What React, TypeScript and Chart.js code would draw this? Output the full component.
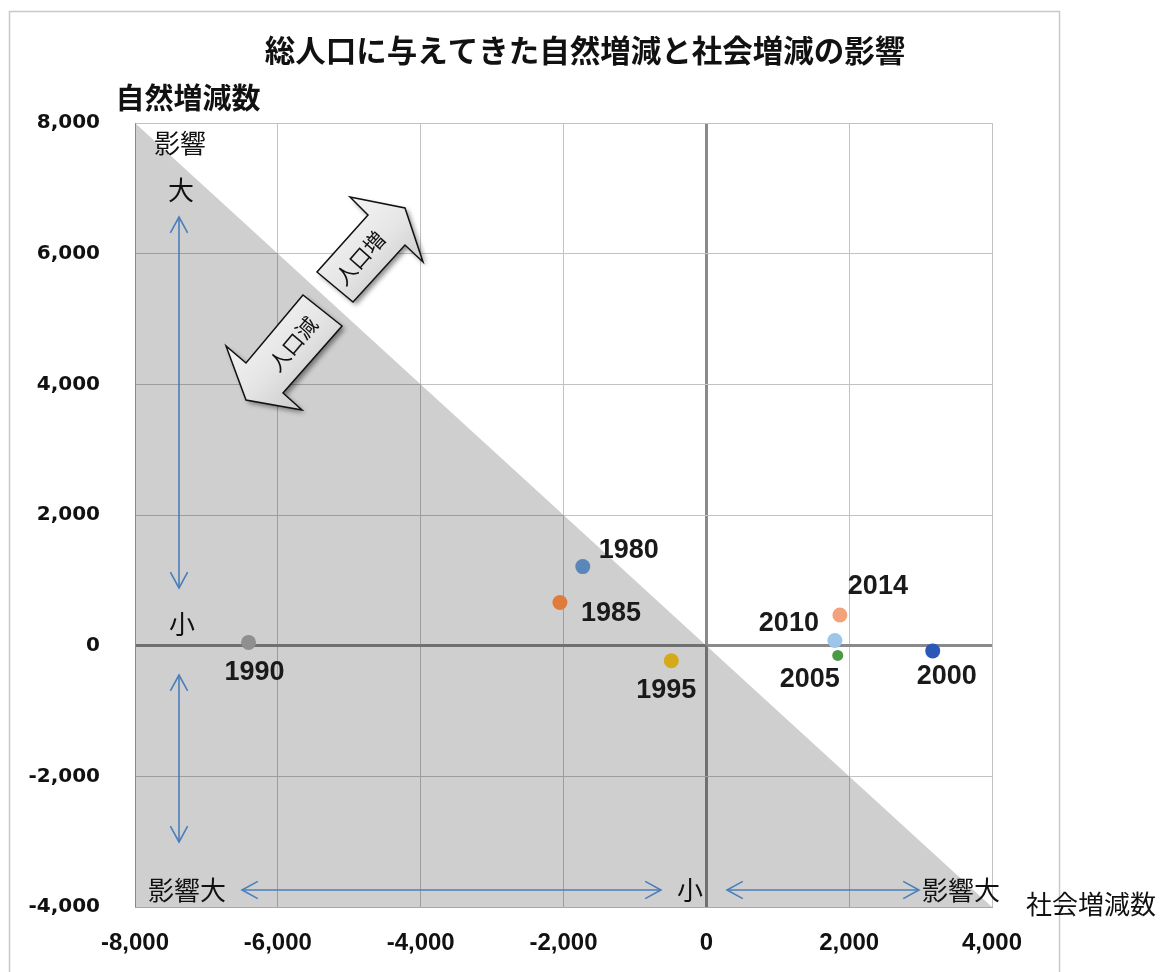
import React, { useEffect, useRef } from 'react';
import { Chart, registerables } from 'chart.js';

Chart.register(...registerables);

// ---- data ----
const YEARS = ['1980', '1985', '1990', '1995', '2000', '2005', '2010', '2014'];
const SOCIAL_CHANGE = [-1730, -2050, -6410, -490, 3170, 1840, 1800, 1870];
const NATURAL_CHANGE = [1210, 660, 50, -230, -80, -150, 80, 470];
const POINT_COLORS = ['#5a86b8', '#e07b39', '#8f8f8f', '#d4aa1a', '#2b57b8', '#4a9a44', '#9ec5ea', '#f3a37a'];
const POINT_RADII = [7.5, 7.5, 7.5, 7.5, 7.5, 5.5, 7.5, 7.5];
const X_RANGE = [-8000, 4000];
const Y_RANGE = [-4000, 8000];
const TICK_STEP = 2000;
// boundary line x + y = 0 (shaded side: population decrease)
const BOUNDARY_X = [-8000, 4000];
const BOUNDARY_Y = [8000, -4000];

const TITLE = '総人口に与えてきた自然増減と社会増減の影響';
const Y_TITLE = '自然増減数';
const X_TITLE = '社会増減数';

// label offsets (px) for year labels
const LABEL_OFFSETS: [number, number][] = [
  [46, -16], [51, 11], [6, 30], [-5, 30], [14, 26], [-28, 24], [-46, -17], [38, -28],
];

const fmt = (v: number) => Number(v).toLocaleString('en-US');

const CJK = '"Noto Sans CJK JP", "Noto Sans", sans-serif';

function blockArrow(ctx: CanvasRenderingContext2D, pts: number[][], label: string, cx: number, cy: number, angle: number) {
  ctx.save();
  let minX = Infinity, minY = Infinity, maxX = -Infinity, maxY = -Infinity;
  pts.forEach(([x, y]) => { minX = Math.min(minX, x); minY = Math.min(minY, y); maxX = Math.max(maxX, x); maxY = Math.max(maxY, y); });
  const g = ctx.createLinearGradient(minX, minY, maxX, maxY);
  g.addColorStop(0, '#fbfbfb');
  g.addColorStop(0.5, '#e6e6e6');
  g.addColorStop(1, '#bdbdbd');
  ctx.beginPath();
  pts.forEach(([x, y], i) => (i === 0 ? ctx.moveTo(x, y) : ctx.lineTo(x, y)));
  ctx.closePath();
  ctx.shadowColor = 'rgba(0,0,0,0.45)';
  ctx.shadowBlur = 5;
  ctx.shadowOffsetX = 3;
  ctx.shadowOffsetY = 3;
  ctx.fillStyle = g;
  ctx.fill();
  ctx.shadowColor = 'transparent';
  ctx.lineWidth = 1.5;
  ctx.strokeStyle = '#111';
  ctx.lineJoin = 'miter';
  ctx.stroke();
  ctx.translate(cx, cy);
  ctx.rotate(angle);
  ctx.fillStyle = '#111';
  ctx.font = `21px ${CJK}`;
  ctx.textAlign = 'center';
  ctx.textBaseline = 'middle';
  ctx.fillText(label, 0, 0);
  ctx.restore();
}

function blueArrow(ctx: CanvasRenderingContext2D, x1: number, y1: number, x2: number, y2: number) {
  const head = (tx: number, ty: number, fx: number, fy: number) => {
    const a = Math.atan2(ty - fy, tx - fx);
    const len = 18, spread = 0.5;
    ctx.beginPath();
    ctx.moveTo(tx - len * Math.cos(a - spread), ty - len * Math.sin(a - spread));
    ctx.lineTo(tx, ty);
    ctx.lineTo(tx - len * Math.cos(a + spread), ty - len * Math.sin(a + spread));
    ctx.stroke();
  };
  ctx.save();
  ctx.strokeStyle = '#4a7ebb';
  ctx.lineWidth = 1.6;
  ctx.beginPath();
  ctx.moveTo(x1, y1);
  ctx.lineTo(x2, y2);
  ctx.stroke();
  head(x1, y1, x2, y2);
  head(x2, y2, x1, y1);
  ctx.restore();
}

const yearLabelPlugin = {
  id: 'yearLabels',
  afterDatasetsDraw(chart: any) {
    const ctx = chart.ctx as CanvasRenderingContext2D;
    const meta = chart.getDatasetMeta(1);
    ctx.save();
    ctx.font = 'bold 27px "Liberation Sans", Arial, sans-serif';
    ctx.fillStyle = '#1a1a1a';
    ctx.textAlign = 'center';
    ctx.textBaseline = 'middle';
    meta.data.forEach((el: any, i: number) => {
      const [dx, dy] = LABEL_OFFSETS[i];
      ctx.fillText(YEARS[i], el.x + dx, el.y + dy);
    });
    ctx.restore();
  },
};

const decorPlugin = {
  id: 'decor',
  afterDraw(chart: any) {
    const ctx = chart.ctx as CanvasRenderingContext2D;
    ctx.save();
    // outer frame
    ctx.strokeStyle = '#c8c8c8';
    ctx.lineWidth = 1.5;
    ctx.strokeRect(9.5, 11.5, 1050, 980);

    ctx.fillStyle = '#111';
    ctx.textAlign = 'center';
    ctx.textBaseline = 'middle';
    ctx.font = `bold 30.5px ${CJK}`;
    ctx.fillText(TITLE, 585, 50);
    ctx.font = `bold 29px ${CJK}`;
    ctx.fillText(Y_TITLE, 188, 98);
    ctx.font = `26px ${CJK}`;
    ctx.fillText(X_TITLE, 1091, 904);

    // influence annotations
    ctx.font = `26px ${CJK}`;
    ctx.fillText('影響', 180, 143);
    ctx.fillText('大', 181, 190);
    ctx.fillText('小', 182, 624);
    ctx.fillText('影響大', 187, 890);
    ctx.fillText('小', 690, 890);
    ctx.fillText('影響大', 961, 890);
    ctx.restore();

    blueArrow(ctx, 179, 217, 179, 588);
    blueArrow(ctx, 179, 675, 179, 842);
    blueArrow(ctx, 242, 890, 661, 890);
    blueArrow(ctx, 727, 890, 919, 890);

    blockArrow(ctx, [[350, 197], [405, 208], [423, 262], [405, 245], [353, 302], [317, 272], [368, 215]], '人口増', 360, 258, -0.85);
    blockArrow(ctx, [[303, 295], [246, 363], [226, 346], [246, 400], [302, 410], [283, 393], [342, 326]], '人口減', 293, 344, -0.87);
  },
};

export default function App() {
  const ref = useRef<HTMLCanvasElement | null>(null);
  useEffect(() => {
    if (!ref.current) return;
    const gridColor = (c: any) => (c.tick && c.tick.value === 0 ? '#8a8a8a' : '#c2c2c2');
    const gridWidth = (c: any) => (c.tick && c.tick.value === 0 ? 3 : 1);
    const chart = new Chart(ref.current, {
      type: 'scatter',
      data: {
        datasets: [
          {
            label: 'boundary',
            data: BOUNDARY_X.map((x, i) => ({ x, y: BOUNDARY_Y[i] })),
            showLine: true,
            borderWidth: 0,
            borderColor: 'rgba(0,0,0,0)',
            pointRadius: 0,
            fill: 'start',
            backgroundColor: 'rgba(0,0,0,0.19)',
            order: 2,
          } as any,
          {
            label: 'years',
            data: SOCIAL_CHANGE.map((x, i) => ({ x, y: NATURAL_CHANGE[i] })),
            pointBackgroundColor: POINT_COLORS,
            pointBorderColor: POINT_COLORS,
            pointBorderWidth: 0,
            pointRadius: POINT_RADII,
            order: 1,
          },
        ],
      },
      options: {
        responsive: false,
        maintainAspectRatio: false,
        animation: false,
        layout: { padding: { left: 0, top: 123, right: 170, bottom: 0 } },
        plugins: { legend: { display: false }, tooltip: { enabled: false }, title: { display: false } },
        scales: {
          x: {
            type: 'linear',
            min: X_RANGE[0],
            max: X_RANGE[1],
            afterFit: (s: any) => { s.height = 65; },
            ticks: {
              stepSize: TICK_STEP,
              padding: 22,
              color: '#111',
              font: { family: '"Liberation Sans", Arial, sans-serif', size: 24, weight: 'bold' },
              callback: (v: any) => fmt(v),
              maxRotation: 0,
            },
            grid: { drawTicks: false, color: gridColor, lineWidth: gridWidth },
            border: { display: true, color: '#a8a8a8', width: 1 },
          },
          y: {
            type: 'linear',
            min: Y_RANGE[0],
            max: Y_RANGE[1],
            afterFit: (s: any) => { s.width = 135; },
            ticks: {
              stepSize: TICK_STEP,
              padding: 35,
              color: '#111',
              font: { family: '"DejaVu Sans", Verdana, sans-serif', size: 20, weight: 'bold' },
              callback: (v: any) => fmt(v),
            },
            grid: { drawTicks: false, color: gridColor, lineWidth: gridWidth },
            border: { display: true, color: '#a8a8a8', width: 1 },
          },
        },
      } as any,
      plugins: [yearLabelPlugin, decorPlugin],
    });
    return () => chart.destroy();
  }, []);
  return (
    <div style={{ position: 'absolute', left: 0, top: 0, width: 1162, height: 972, background: '#fff' }}>
      <canvas ref={ref} width={1162} height={972} style={{ display: 'block', width: 1162, height: 972 }} />
    </div>
  );
}
